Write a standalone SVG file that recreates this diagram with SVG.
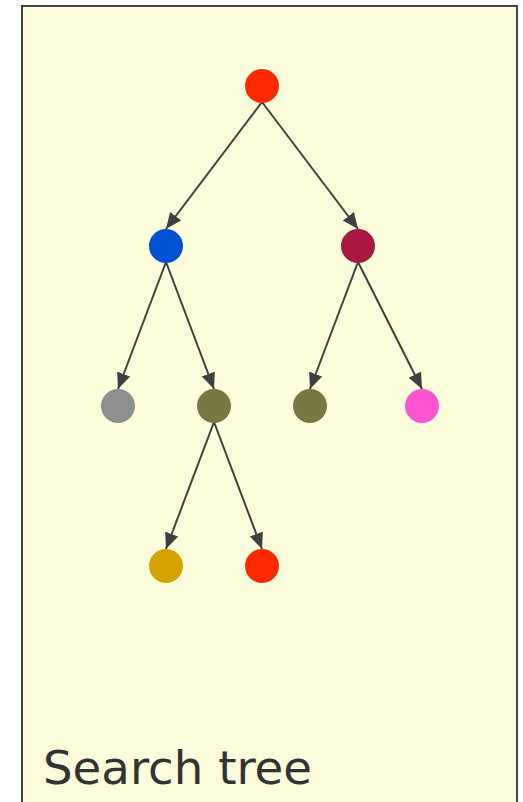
<svg xmlns="http://www.w3.org/2000/svg" width="523" height="802" viewBox="0 0 523 802">
<defs>
<style>
.edge{stroke:#404040;stroke-width:2;fill:none;marker-end:url(#ah)}
.lbl{font-family:"Comic Sans MS","DejaVu Sans","Noto Sans",sans-serif;font-size:46px;fill:#333333}
</style>
<marker id="ah" markerUnits="userSpaceOnUse" markerWidth="17" markerHeight="15" refX="16" refY="7" orient="auto">
<path d="M0,0 L16,7 L0,14 z" fill="#404040"/>
</marker>
</defs>
<rect x="22" y="6" width="495" height="810" fill="#FEFEDC" stroke="#444444" stroke-width="2"/>
<g id="connectors">
<line class="edge" x1="262" y1="102" x2="166" y2="229"/>
<line class="edge" x1="262" y1="102" x2="358" y2="229"/>
<line class="edge" x1="166" y1="262" x2="118" y2="389"/>
<line class="edge" x1="166" y1="262" x2="214" y2="389"/>
<line class="edge" x1="358" y1="262" x2="310" y2="389"/>
<line class="edge" x1="358" y1="262" x2="422" y2="389"/>
<line class="edge" x1="214" y1="422" x2="166" y2="549"/>
<line class="edge" x1="214" y1="422" x2="262" y2="549"/>
</g>
<g id="n-root"><circle cx="262" cy="86" r="17" fill="#FF2A00"/></g>
<g id="n-blue"><circle cx="166" cy="246" r="17" fill="#0050D2"/></g>
<g id="n-crimson"><circle cx="358" cy="246" r="17" fill="#A81840"/></g>
<g id="n-grey"><circle cx="118" cy="406" r="17" fill="#8F8F8F"/></g>
<g id="n-olive1"><circle cx="214" cy="406" r="17" fill="#787840"/></g>
<g id="n-olive2"><circle cx="310" cy="406" r="17" fill="#787840"/></g>
<g id="n-pink"><circle cx="422" cy="406" r="17" fill="#FF55D0"/></g>
<g id="n-gold"><circle cx="166" cy="566" r="17" fill="#D6A400"/></g>
<g id="n-red"><circle cx="262" cy="566" r="17" fill="#FF2A00"/></g>
<g id="label"><text class="lbl" x="43" y="784" textLength="269" lengthAdjust="spacingAndGlyphs">Search tree</text></g>
</svg>
